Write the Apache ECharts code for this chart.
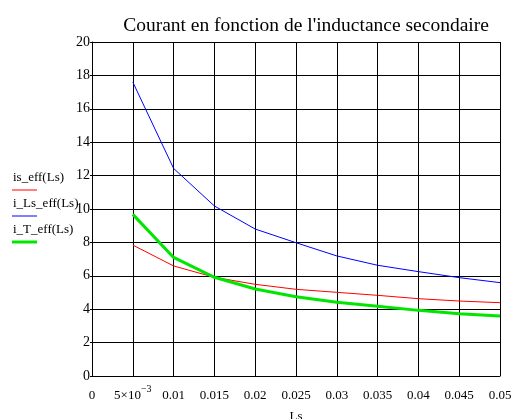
<!DOCTYPE html>
<html>
<head>
<meta charset="utf-8">
<script src="https://cdn.jsdelivr.net/npm/echarts@6/dist/echarts.min.js"></script>
<style>html,body{margin:0;padding:0;background:#fff}#c{width:512px;height:419px}</style>
</head>
<body>
<div id="c"></div>
<script>
var Ls = [0.005, 0.01, 0.015, 0.02, 0.025, 0.03, 0.035, 0.04, 0.045, 0.05];
var is_eff = [7.84, 6.59, 5.91, 5.49, 5.19, 5.01, 4.83, 4.63, 4.49, 4.39];
var i_Ls_eff = [17.6, 12.43, 10.18, 8.8, 7.98, 7.19, 6.63, 6.25, 5.89, 5.59];
var i_T_eff = [9.68, 7.1, 5.91, 5.21, 4.75, 4.41, 4.17, 3.93, 3.73, 3.59];
var seriesNames = ['is_eff(Ls)', 'i_Ls_eff(Ls)', 'i_T_eff(Ls)'];
var titleText = "Courant en fonction de l'inductance secondaire";
var xName = 'Ls';

function pairs(ys){ return Ls.map(function(x,i){ return [x, ys[i]]; }); }
var FONT = '"Liberation Serif", "DejaVu Serif", serif';
var chart = echarts.init(document.getElementById('c'));
var legendGraphics = [];
var colors = ['#ff0000', '#0000ff', '#00e600'];
var widths = [1, 1, 3];
var ty = [178, 204, 230];
seriesNames.forEach(function(n, i){
  legendGraphics.push({type:'text', left:13, top:ty[i]-7, style:{text:n, font:'13px ' + FONT, fill:'#000'}});
  legendGraphics.push({type:'line', shape:{x1:12, y1:ty[i]+12, x2:37, y2:ty[i]+12}, style:{stroke:colors[i], lineWidth:widths[i]}});
});
chart.setOption({
  animation:false,
  backgroundColor:'#fff',
  title:{text:titleText, left:301, textAlign:'center', top:11,
    textStyle:{fontFamily:FONT, fontSize:19.5, fontWeight:'normal', color:'#000'}},
  grid:{left:92, right:12, top:42, bottom:43, containLabel:false, outerBoundsMode:'none'},
  xAxis:{type:'value', min:0, max:0.05, interval:0.005,
    name:xName, nameLocation:'middle', nameGap:34,
    nameTextStyle:{fontFamily:FONT, fontSize:13, color:'#000'},
    axisLine:{lineStyle:{color:'#000', width:1}},
    axisTick:{show:false},
    splitLine:{show:true, lineStyle:{color:'#000', width:1}},
    axisLabel:{margin:8, fontFamily:FONT, fontSize:13, color:'#000',
      formatter:function(v){
        var r = parseFloat(v.toFixed(4));
        if (r === 0.005) return '{n|5×10}{sup|−3}';
        return '{n|' + String(r) + '}';
      },
      rich:{
        n:{fontFamily:FONT, fontSize:13, color:'#000', lineHeight:18, verticalAlign:'bottom'},
        sup:{fontFamily:FONT, fontSize:10, color:'#000', lineHeight:10, verticalAlign:'top'}
      }
    }
  },
  yAxis:{type:'value', min:0, max:20, interval:2,
    axisLine:{lineStyle:{color:'#000', width:1}},
    axisTick:{show:true, length:2, lineStyle:{color:'#000'}},
    splitLine:{show:true, lineStyle:{color:'#000', width:1}},
    axisLabel:{margin:2, fontFamily:FONT, fontSize:14, color:'#000'}
  },
  graphic:legendGraphics,
  series:[
    {name:seriesNames[0], type:'line', data:pairs(is_eff), showSymbol:false, lineStyle:{color:colors[0], width:widths[0]}, itemStyle:{color:colors[0]}},
    {name:seriesNames[1], type:'line', data:pairs(i_Ls_eff), showSymbol:false, lineStyle:{color:colors[1], width:widths[1]}, itemStyle:{color:colors[1]}},
    {name:seriesNames[2], type:'line', data:pairs(i_T_eff), showSymbol:false, lineStyle:{color:colors[2], width:widths[2]}, itemStyle:{color:colors[2]}}
  ]
});
</script>
</body>
</html>
